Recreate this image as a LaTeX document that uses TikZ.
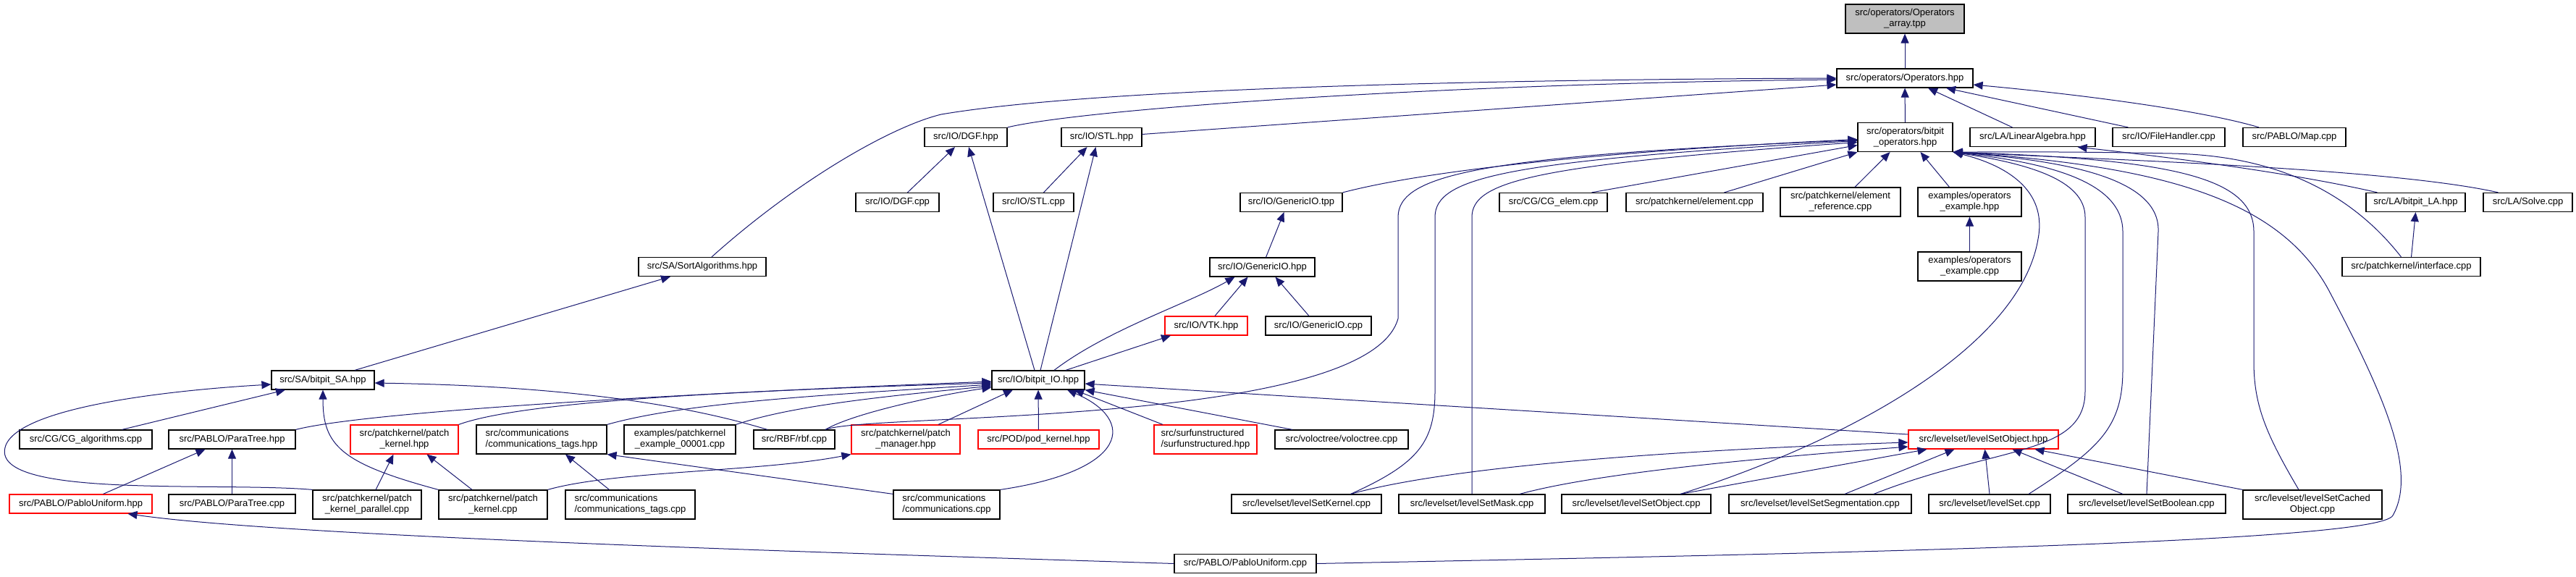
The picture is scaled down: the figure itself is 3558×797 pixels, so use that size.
\documentclass[tikz,border=0pt]{standalone}
\usepackage{fontspec}
\setmainfont{Liberation Sans}
\usetikzlibrary{arrows.meta}
\definecolor{EdgeColor}{RGB}{25,25,112}
\definecolor{RootColor}{RGB}{191,191,191}
\definecolor{MissColor}{RGB}{255,0,0}
\newcommand{\graphfont}{\fontsize{13}{15}\selectfont}

\begin{document}
\begin{tikzpicture}[x=1pt,y=-1pt,
  every node/.style={draw,line width=1.2pt,fill=white,align=center,font=\graphfont,inner sep=2pt,minimum height=26pt},
  twoline/.style={minimum height=40pt},
  missing/.style={draw=MissColor},
  inc/.style={draw=EdgeColor,line width=1pt,-{Triangle[length=13pt,width=11pt]}}]
\useasboundingbox (0,0) rectangle (3558,797);
\node[fill=RootColor,twoline,minimum width=164] (arr) at (2631,26) {src/operators/Operators\\\_array.tpp};
\node[minimum width=188] (ops) at (2631,108) {src/operators/Operators.hpp};
\node[twoline,minimum width=131] (bops) at (2631.5,189.5) {src/operators/bitpit\\\_operators.hpp};
\node[minimum width=173] (linalg) at (2807.5,189.5) {src/LA/LinearAlgebra.hpp};
\node[minimum width=155] (fileh) at (2995.5,189.5) {src/IO/FileHandler.cpp};
\node[minimum width=142] (mapc) at (3169,189.5) {src/PABLO/Map.cpp};
\node[minimum width=114] (dgfh) at (1334,189.5) {src/IO/DGF.hpp};
\node[minimum width=111] (stlh) at (1521.5,189.5) {src/IO/STL.hpp};
\node[minimum width=176] (sort) at (970,368.5) {src/SA/SortAlgorithms.hpp};
\node[minimum width=115] (dgfc) at (1239.5,279.5) {src/IO/DGF.cpp};
\node[minimum width=111] (stlc) at (1427.5,279.5) {src/IO/STL.cpp};
\node[minimum width=141] (gtpp) at (1783.5,279.5) {src/IO/GenericIO.tpp};
\node[minimum width=149] (cgelem) at (2145.5,279.5) {src/CG/CG\_elem.cpp};
\node[minimum width=189] (elem) at (2340.5,279.5) {src/patchkernel/element.cpp};
\node[twoline,minimum width=166] (elemref) at (2542,279) {src/patchkernel/element\\\_reference.cpp};
\node[twoline,minimum width=143] (opexh) at (2720.5,279) {examples/operators\\\_example.hpp};
\node[minimum width=137] (bitla) at (3336.5,279.5) {src/LA/bitpit\_LA.hpp};
\node[minimum width=123] (solve) at (3491.5,279.5) {src/LA/Solve.cpp};
\node[minimum width=145] (ghpp) at (1743.5,369) {src/IO/GenericIO.hpp};
\node[twoline,minimum width=143] (opexc) at (2720.5,368) {examples/operators\\\_example.cpp};
\node[minimum width=191] (iface) at (3330.5,368.5) {src/patchkernel/interface.cpp};
\node[missing,minimum width=114] (vtk) at (1666,450) {src/IO/VTK.hpp};
\node[minimum width=146] (gcpp) at (1821,450) {src/IO/GenericIO.cpp};
\node[minimum width=142] (bsa) at (446,525) {src/SA/bitpit\_SA.hpp};
\node[minimum width=128] (bio) at (1434,525) {src/IO/bitpit\_IO.hpp};
\node[minimum width=183] (cgalg) at (118.5,607) {src/CG/CG\_algorithms.cpp};
\node[minimum width=175] (ptreeh) at (320.5,607) {src/PABLO/ParaTree.hpp};
\node[missing,twoline,minimum width=149] (pkh) at (558.5,607) {src/patchkernel/patch\\\_kernel.hpp};
\node[twoline,align=left,minimum width=180] (ctagh) at (748,607) {src/communications\\/communications\_tags.hpp};
\node[twoline,minimum width=154] (ex1) at (939,607) {examples/patchkernel\\\_example\_00001.cpp};
\node[minimum width=112] (rbf) at (1097,607) {src/RBF/rbf.cpp};
\node[missing,twoline,minimum width=150] (pman) at (1251,607) {src/patchkernel/patch\\\_manager.hpp};
\node[missing,minimum width=167] (pod) at (1434.5,607) {src/POD/pod\_kernel.hpp};
\node[missing,twoline,align=left,minimum width=142] (surf) at (1665,607) {src/surfunstructured\\/surfunstructured.hpp};
\node[minimum width=184] (volo) at (1853,607) {src/voloctree/voloctree.cpp};
\node[missing,minimum width=207] (lsoh) at (2739.5,607) {src/levelset/levelSetObject.hpp};
\node[missing,minimum width=197] (puh) at (111.5,696) {src/PABLO/PabloUniform.hpp};
\node[minimum width=175] (ptreec) at (320.5,696) {src/PABLO/ParaTree.cpp};
\node[twoline,minimum width=150] (pkpar) at (507,697) {src/patchkernel/patch\\\_kernel\_parallel.cpp};
\node[twoline,minimum width=150] (pkc) at (681,697) {src/patchkernel/patch\\\_kernel.cpp};
\node[twoline,align=left,minimum width=179] (ctagc) at (870.5,697) {src/communications\\/communications\_tags.cpp};
\node[twoline,align=left,minimum width=147] (comm) at (1307.5,697) {src/communications\\/communications.cpp};
\node[minimum width=207] (lsk) at (1804.5,696) {src/levelset/levelSetKernel.cpp};
\node[minimum width=202] (lsm) at (2033,696) {src/levelset/levelSetMask.cpp};
\node[minimum width=206] (lsoc) at (2260,696) {src/levelset/levelSetObject.cpp};
\node[minimum width=252] (lsseg) at (2514,696) {src/levelset/levelSetSegmentation.cpp};
\node[minimum width=168] (ls) at (2748,696) {src/levelset/levelSet.cpp};
\node[minimum width=218] (lsb) at (2965,696) {src/levelset/levelSetBoolean.cpp};
\node[twoline,minimum width=192] (lscach) at (3194,697) {src/levelset/levelSetCached\\Object.cpp};
\node[minimum width=196] (puc) at (1720,778.5) {src/PABLO/PabloUniform.cpp};

\draw[inc] (ops) -- (arr);
\draw[inc] (bops) -- (ops);
\draw[inc] ([xshift=-28]linalg.north) -- ([xshift=32]ops.south);
\draw[inc] ([xshift=-56]fileh.north) -- ([xshift=57]ops.south);
\draw[inc] ([xshift=-49]mapc.north) .. controls (3050,155) and (2900,133) .. ([yshift=-9]ops.east);
\draw[inc] ([xshift=13]sort.north) .. controls (1100,250) and (1230,175) .. (1300,158) .. controls (1500,124) and (2000,110) .. (ops.west);
\draw[inc] (dgfh.north east) .. controls (1500,150) and (2000,115) .. ([yshift=-2]ops.west);
\draw[inc] ([yshift=4]stlh.east) -- ([yshift=-9]ops.west);
\draw[inc] ([xshift=14]dgfc.north) -- ([xshift=-15]dgfh.south);
\draw[inc] ([xshift=14]stlc.north) -- ([xshift=-20]stlh.south);
\draw[inc] ([xshift=-5]bio.north) -- ([xshift=4]dgfh.south);
\draw[inc] ([xshift=3]bio.north) -- ([xshift=-8]stlh.south);

\draw[inc] (gtpp.north east) .. controls (2000,228) and (2300,205) .. ([yshift=-3]bops.west);
\draw[inc] ([xshift=43]rbf.north) .. controls (1200,570) and (1890,590) .. (1931,440) -- (1931,300) .. controls (1931,240) and (2050,215) .. ([yshift=-4]bops.west);
\draw[inc] ([xshift=61]lsk.north) .. controls (1960,640) and (1982,610) .. (1982,540) -- (1982,300) .. controls (1982,245) and (2080,222) .. ([yshift=-5]bops.west);
\draw[inc] (lsm.north) -- (2033,300) .. controls (2033,250) and (2120,228) .. ([yshift=-7]bops.west);
\draw[inc] ([xshift=53]cgelem.north) -- ([yshift=-11]bops.west);
\draw[inc] ([xshift=41]elem.north) -- (bops.south west);
\draw[inc] ([xshift=20]elemref.north) -- ([xshift=-21]bops.south);
\draw[inc] ([xshift=-28]opexh.north) -- ([xshift=21]bops.south);
\draw[inc] (opexc) -- (opexh);

\draw[inc] ([xshift=61]lsoc.north) .. controls (2550,610) and (2790,480) .. (2815,330) .. controls (2828,262) and (2770,228) .. (bops.south east);
\draw[inc] ([xshift=74]lsseg.north) .. controls (2760,615) and (2880,630) .. (2880,540) -- (2880,300) .. controls (2880,248) and (2800,226) .. (bops.south east);
\draw[inc] ([xshift=54]ls.north) .. controls (2900,620) and (2932,590) .. (2932,510) -- (2932,320) .. controls (2932,248) and (2820,224) .. (bops.south east);
\draw[inc] (lsb.north) -- (2981,320) .. controls (2984,245) and (2850,222) .. (bops.south east);
\draw[inc] ([xshift=-19]lscach.north) .. controls (3130,600) and (3113,560) .. (3113,500) -- (3113,320) .. controls (3113,245) and (3000,220) .. (bops.south east);
\draw[inc] (puc.east) .. controls (2500,765) and (3285,750) .. (3305,712) .. controls (3340,650) and (3290,540) .. (3216,400) .. controls (3150,280) and (3000,230) .. (bops.south east);
\draw[inc] ([xshift=-41]solve.north) .. controls (3300,232) and (2900,220) .. (bops.south east);
\draw[inc] ([xshift=-14]iface.north) .. controls (3250,270) and (3150,215) .. (3000,212) .. controls (2850,209) and (2750,210) .. (bops.south east);
\draw[inc] (iface.north) -- (bitla.south);
\draw[inc] ([xshift=-53]bitla.north) .. controls (3150,235) and (2950,212) .. ([xshift=62]linalg.south);

\draw[inc] ([xshift=22]bio.north) .. controls (1530,455) and (1640,420) .. ([xshift=-38]ghpp.south);
\draw[inc] ([xshift=38]bio.north) -- ([xshift=-49]vtk.south);
\draw[inc] ([xshift=12]vtk.north) -- ([xshift=-20]ghpp.south);
\draw[inc] ([xshift=-13]gcpp.north) -- ([xshift=18]ghpp.south);
\draw[inc] ([xshift=5]ghpp.north) -- ([xshift=-10]gtpp.south);

\draw[inc] (ptreeh.north east) .. controls (500,570) and (900,545) .. ([yshift=-2]bio.west);
\draw[inc] (pkh.north east) .. controls (720,555) and (1000,540) .. ([yshift=-4]bio.west);
\draw[inc] (ctagh.north east) .. controls (950,555) and (1150,545) .. ([yshift=-6]bio.west);
\draw[inc] (ex1.north east) .. controls (1100,558) and (1250,545) .. ([yshift=-8]bio.west);
\draw[inc] ([xshift=43]rbf.north) .. controls (1180,570) and (1300,545) .. ([yshift=-10]bio.west);
\draw[inc] ([xshift=45]pman.north) -- ([xshift=-35]bio.south);
\draw[inc] (pod) -- (bio);
\draw[inc] (comm.north east) .. controls (1560,650) and (1570,580) .. ([xshift=40]bio.south);
\draw[inc] ([xshift=-59]surf.north) -- ([xshift=50]bio.south);
\draw[inc] ([xshift=-68]volo.north) -- (bio.south east);
\draw[inc] ([yshift=7]lsoh.west) -- ([yshift=-5]bio.east);

\draw[inc] ([xshift=44]bsa.north) -- ([xshift=-44]sort.south);
\draw[inc] ([xshift=50]cgalg.north) -- ([xshift=-52]bsa.south);
\draw[inc] (pkpar.north west) .. controls (300,665) and (-20,690) .. (8,615) .. controls (30,560) and (250,538) .. ([yshift=-6]bsa.west);
\draw[inc] (pkc.north west) .. controls (470,640) and (446,615) .. (bsa.south);
\draw[inc] ([xshift=-37]rbf.north) .. controls (900,545) and (700,532) .. ([yshift=-4]bsa.east);
\draw[inc] ([xshift=31]puh.north) -- ([xshift=-37]ptreeh.south);
\draw[inc] (ptreec) -- (ptreeh);
\draw[inc] ([xshift=12]pkpar.north) -- ([xshift=-15]pkh.south);
\draw[inc] ([xshift=-29]pkc.north) -- ([xshift=31]pkh.south);
\draw[inc] ([xshift=-29]ctagc.north) -- ([xshift=33]ctagh.south);
\draw[inc] (pkc.north east) .. controls (850,650) and (1050,652) .. (pman.south west);
\draw[inc] ([yshift=-6]comm.north west) -- (ctagh.south east);
\draw[inc] (puc.west) .. controls (1200,765) and (400,742) .. ([xshift=65]puh.south);

\draw[inc] ([xshift=61]lsk.north) .. controls (2000,645) and (2300,622) .. ([yshift=-4]lsoh.west);
\draw[inc] ([xshift=66]lsm.north) .. controls (2200,655) and (2400,635) .. ([yshift=-10]lsoh.west);
\draw[inc] ([xshift=61]lsoc.north) -- ([xshift=-78]lsoh.south);
\draw[inc] ([xshift=34]lsseg.north) -- ([xshift=-40]lsoh.south);
\draw[inc] (ls.north) -- ([xshift=2]lsoh.south);
\draw[inc] ([xshift=-33]lsb.north) -- ([xshift=40]lsoh.south);
\draw[inc] (lscach.north west) -- ([xshift=71]lsoh.south);
\end{tikzpicture}
\end{document}
